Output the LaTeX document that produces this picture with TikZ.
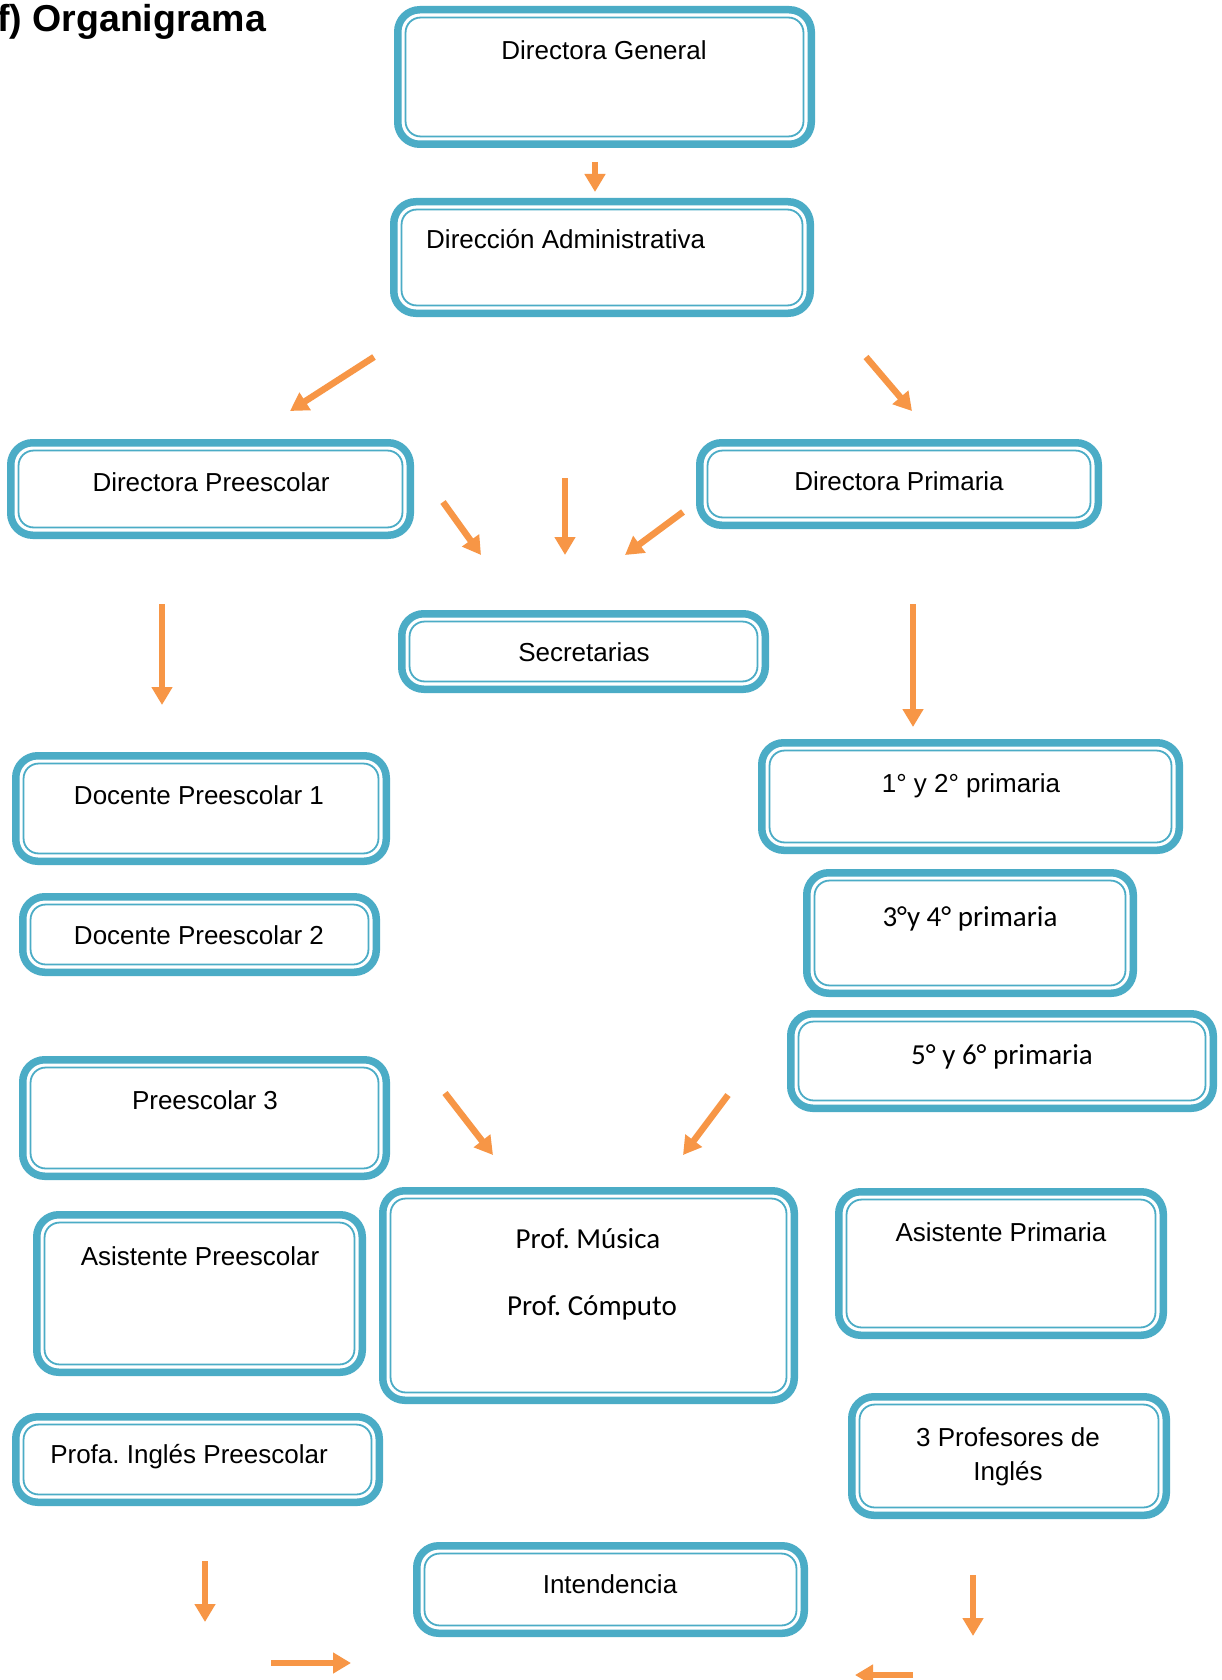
\documentclass[tikz,border=0pt]{standalone}
\usepackage{fontspec}
\setmainfont{Liberation Sans}
\newfontfamily\calfont{Carlito}
\usetikzlibrary{arrows.meta,fit}
\definecolor{boxblue}{HTML}{4BACC6}
\definecolor{arrorange}{HTML}{F79646}
\frenchspacing
\newcommand\orgbox[5]{%
  \pgfmathsetmacro\oxa{#2+3.75}\pgfmathsetmacro\oya{#3+3.75}%
  \pgfmathsetmacro\oxb{#4-3.75}\pgfmathsetmacro\oyb{#5-3.75}%
  \node[obox, fit={(\oxa,\oya) (\oxb,\oyb)}] (#1) {};
  \draw[ibox] ([shift={(7.8pt,-7.8pt)}]#1.north west) rectangle ([shift={(-7.8pt,7.8pt)}]#1.south east);
}
\begin{document}
\begin{tikzpicture}[x=1pt,y=-1pt,
  obox/.style={draw=boxblue, line width=7.5pt, rounded corners=22pt, fill=white, inner sep=0pt, outer sep=0pt},
  ibox/.style={draw=boxblue, line width=1.8pt, rounded corners=15pt},
  arr/.style={draw=arrorange, line width=6.5pt, -{Triangle[width=20pt,length=18pt]}},
  txt/.style={font=\fontsize{26}{34}\selectfont, inner sep=0pt, anchor=base},
  ctxt/.style={font=\calfont\fontsize{29}{36}\selectfont, inner sep=0pt, anchor=base},
  title/.style={font=\bfseries\fontsize{37.5}{42}\selectfont, inner sep=0pt, anchor=base west}
]
\useasboundingbox[fill=white] (0,0) rectangle (1222,1680);

\node[title] (ttl) at (-3,32) {f) Organigrama};

\orgbox{dg}{394}{6}{815}{148}
\orgbox{da}{390}{198}{814}{317}
\orgbox{dpre}{7}{439}{414}{539}
\orgbox{dpri}{696}{439}{1102}{529}
\orgbox{sec}{398}{610}{769}{693}
\orgbox{dp1}{12}{752}{390}{865}
\orgbox{dp2}{19}{893}{380}{976}
\orgbox{p12}{758}{739}{1183}{854}
\orgbox{p34}{803}{869}{1137}{997}
\orgbox{p56}{787}{1010}{1217}{1112}
\orgbox{pre3}{19}{1056}{390}{1180}
\orgbox{aspre}{33}{1211}{366}{1376}
\orgbox{prof}{379}{1187}{798}{1404}
\orgbox{aspri}{835}{1188}{1167}{1339}
\orgbox{ingpre}{12}{1413}{383}{1506}
\orgbox{ingt}{848}{1393}{1170}{1519}
\orgbox{int}{413}{1542}{808}{1637}

\node[txt] (dg-t) at (604,60) {Directora General};
\node[txt, anchor=base west] (da-t) at (426,249) {Dirección Administrativa};
\node[txt] (dpre-t) at (211,491) {Directora Preescolar};
\node[txt] (dpri-t) at (899,490) {Directora Primaria};
\node[txt] (sec-t) at (584,661) {Secretarias};
\node[txt] (dp1-t) at (199,804) {Docente Preescolar 1};
\node[txt] (dp2-t) at (199,944) {Docente Preescolar 2};
\node[txt] (p12-t) at (971,792) {1° y 2° primaria};
\node[ctxt] (p34-t) at (970,926) {3°y 4° primaria};
\node[ctxt] (p56-t) at (1002,1064) {5° y 6° primaria};
\node[txt] (pre3-t) at (205,1109) {Preescolar 3};
\node[txt] (aspre-t) at (200,1265) {Asistente Preescolar};
\node[ctxt] (prof-ta) at (588,1248) {Prof. Música};
\node[ctxt] (prof-tb) at (592,1315) {Prof. Cómputo};
\node[txt] (aspri-t) at (1001,1241) {Asistente Primaria};
\node[txt] (ingpre-t) at (189,1463) {Profa. Inglés Preescolar};
\node[txt] (ingt-ta) at (1008,1446) {3 Profesores de};
\node[txt] (ingt-tb) at (1008,1480) {Inglés};
\node[txt] (int-t) at (610,1593) {Intendencia};

\coordinate (a1s) at (595,162);  \coordinate (a1e) at (595,192);
\coordinate (a2s) at (374,357);  \coordinate (a2e) at (290,411);
\coordinate (a3s) at (866,357);  \coordinate (a3e) at (912,411);
\coordinate (a4s) at (443,502);  \coordinate (a4e) at (481,555);
\coordinate (a5s) at (565,478);  \coordinate (a5e) at (565,555);
\coordinate (a6s) at (683,512);  \coordinate (a6e) at (625,555);
\coordinate (a7s) at (162,604);  \coordinate (a7e) at (162,705);
\coordinate (a8s) at (913,604);  \coordinate (a8e) at (913,727);
\coordinate (a9s) at (445,1093); \coordinate (a9e) at (493,1155);
\coordinate (a10s) at (728,1095); \coordinate (a10e) at (683,1155);
\coordinate (a11s) at (205,1561); \coordinate (a11e) at (205,1622);
\coordinate (a12s) at (973,1575); \coordinate (a12e) at (973,1636);
\coordinate (a13s) at (271,1663); \coordinate (a13e) at (351,1663);
\coordinate (a14s) at (913,1675); \coordinate (a14e) at (855,1675);

\foreach \i in {1,...,14} {\draw[arr] (a\i s) -- (a\i e);}
\end{tikzpicture}
\end{document}
